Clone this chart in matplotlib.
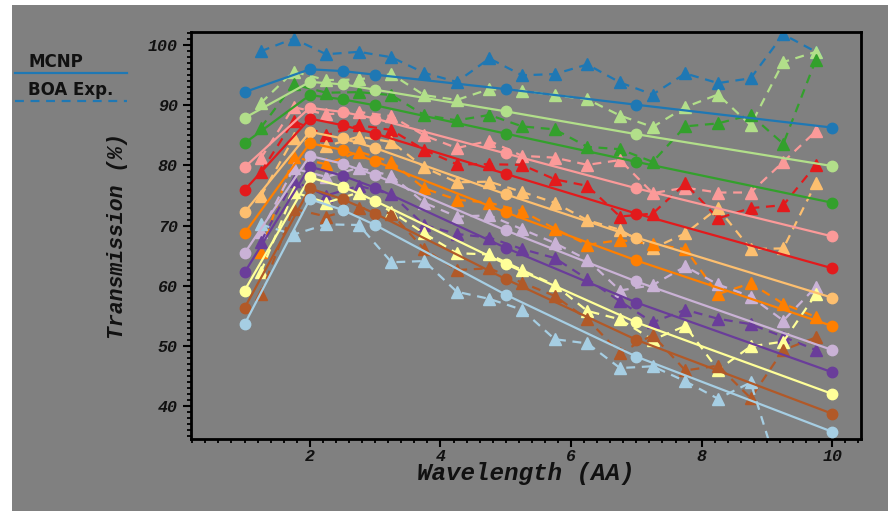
import matplotlib
matplotlib.use("Agg")
import matplotlib.pyplot as plt
from matplotlib.lines import Line2D
from matplotlib.patches import Rectangle
from matplotlib.ticker import MultipleLocator

# ---------------- data ----------------
colors = ["#1f78b4", "#b2df8a", "#33a02c", "#fb9a99", "#e31a1c", "#fdbf6f",
          "#ff7f00", "#cab2d6", "#6a3d9a", "#ffff99", "#b15928", "#a6cee3"]

mcnp_x = [1, 2, 2.5, 3, 5, 7, 10]
mcnp_blue = [92.2, 96.0, 95.7, 95.1, 92.7, 90.1, 86.3]
mcnp_lgreen = [87.9, 93.9, 93.5, 92.6, 89.0, 85.2, 79.9]
mcnp_green = [83.7, 91.7, 91.0, 90.0, 85.3, 80.6, 73.8]
mcnp_pink = [79.7, 89.6, 88.9, 87.8, 82.0, 76.2, 68.2]
mcnp_red = [75.9, 87.8, 86.7, 85.3, 78.6, 72.0, 62.9]
mcnp_lorange = [72.2, 85.6, 84.5, 82.9, 75.2, 68.0, 58.0]
mcnp_orange = [68.7, 83.7, 82.6, 80.7, 72.2, 64.2, 53.3]
mcnp_lpurple = [65.4, 81.6, 80.3, 78.4, 69.2, 60.7, 49.3]
mcnp_purple = [62.2, 79.8, 78.3, 76.3, 66.3, 57.2, 45.6]
mcnp_yellow = [59.2, 78.0, 76.5, 74.1, 63.6, 53.9, 42.0]
mcnp_brown = [56.3, 76.2, 74.4, 72.0, 61.1, 51.0, 38.7]
mcnp_lblue = [53.6, 74.4, 72.6, 70.1, 58.5, 48.2, 35.7]

boa_x = [1.25, 1.75, 2.25, 2.75, 3.25, 3.75, 4.25, 4.75, 5.25, 5.75,
         6.25, 6.75, 7.25, 7.75, 8.25, 8.75, 9.25, 9.75]
boa_blue = [99.0, 101.1, 98.5, 98.9, 98.0, 95.4, 93.9, 97.8, 95.0, 95.2,
            96.8, 93.8, 91.8, 95.3, 93.7, 94.5, 101.8, 98.9]
boa_lgreen = [90.4, 95.6, 94.2, 94.3, 95.2, 91.7, 90.9, 92.7, 92.4, 91.7,
              91.0, 88.3, 86.4, 89.7, 91.8, 86.7, 97.2, 98.9]
boa_green = [86.3, 93.5, 92.1, 92.2, 91.7, 88.4, 87.5, 88.4, 86.5, 86.0,
             83.1, 82.7, 80.6, 86.5, 87.0, 88.4, 83.6, 97.6]
boa_pink = [81.2, 89.7, 88.5, 88.9, 88.2, 85.0, 82.9, 84.1, 81.6, 81.3,
            80.1, 80.9, 75.4, 76.3, 75.5, 75.5, 80.6, 85.7]
boa_red = [78.9, 87.4, 85.0, 86.7, 85.9, 82.6, 80.2, 80.2, 80.1, 77.7,
           76.6, 71.5, 72.0, 77.0, 71.2, 72.9, 73.4, 80.1]
boa_lorange = [74.9, 84.5, 83.2, 84.8, 83.9, 79.7, 77.2, 77.3, 75.6, 73.8,
               70.9, 69.3, 66.2, 68.7, 72.9, 66.1, 66.2, 77.1]
boa_orange = [65.6, 81.4, 80.2, 82.3, 80.6, 76.2, 74.3, 73.8, 72.4, 69.5,
              66.8, 67.6, 66.9, 66.1, 58.6, 60.4, 57.0, 54.8]
boa_lpurple = [68.9, 79.5, 78.1, 79.6, 78.3, 73.8, 71.5, 71.7, 69.4, 67.1,
               64.3, 59.2, 60.1, 63.2, 60.2, 58.2, 54.2, 59.8]
boa_purple = [67.3, 77.4, 75.0, 76.6, 75.2, 70.1, 68.6, 68.0, 66.1, 64.6,
              61.1, 57.4, 53.9, 56.0, 54.5, 53.6, 51.5, 49.3]
boa_yellow = [62.3, 75.6, 73.8, 75.5, 72.3, 68.7, 65.4, 65.2, 62.6, 60.1,
              55.8, 54.4, 51.0, 53.3, 46.0, 49.9, 50.7, 58.6]
boa_brown = [58.7, 72.8, 71.5, 73.0, 72.0, 66.1, 62.6, 62.9, 60.5, 58.3,
             54.4, 48.8, 51.8, 45.9, 46.7, 41.3, 49.3, 51.4]
boa_lblue = [70.2, 68.5, 70.2, 70.1, 63.9, 64.1, 59.0, 57.8, 56.0, 51.1,
             50.4, 46.3, 46.6, 44.1, 41.2, 43.9, 26.5, 25.0]

mcnp_series = [mcnp_blue, mcnp_lgreen, mcnp_green, mcnp_pink, mcnp_red, mcnp_lorange,
               mcnp_orange, mcnp_lpurple, mcnp_purple, mcnp_yellow, mcnp_brown, mcnp_lblue]
boa_series = [boa_blue, boa_lgreen, boa_green, boa_pink, boa_red, boa_lorange,
              boa_orange, boa_lpurple, boa_purple, boa_yellow, boa_brown, boa_lblue]

x_label = "Wavelength (AA)"
y_label = "Transmission (%)"
legend_labels = ["MCNP", "BOA Exp."]

# ---------------- figure ----------------
W, H = 888, 511
fig = plt.figure(figsize=(W / 100, H / 100), dpi=100, facecolor="white")
bg = Rectangle((12 / W, 0), 1 - 12 / W, 1 - 5 / H, transform=fig.transFigure,
               facecolor="#808080", edgecolor="none", zorder=-10)
fig.add_artist(bg)

ax = fig.add_axes([191 / W, 1 - 439 / H, (861 - 191) / W, (439 - 32) / H])
ax.set_zorder(1)
ax.set_facecolor("#808080")

for c, ys in zip(colors, mcnp_series):
    ax.plot(mcnp_x, ys, color=c, lw=1.6, marker="o", ms=7.5, mec=c, mfc=c, zorder=3)
for c, ys in zip(colors, boa_series):
    ax.plot(boa_x, ys, color=c, lw=1.6, ls=(0, (4, 3)), marker="^", ms=8.5,
            mec=c, mfc=c, zorder=2)

ax.set_xlim(0.18, 10.44)
ax.set_ylim(34.5, 102.2)
ax.xaxis.set_major_locator(MultipleLocator(2))
ax.xaxis.set_minor_locator(MultipleLocator(0.2))
ax.yaxis.set_major_locator(MultipleLocator(10))
ax.yaxis.set_minor_locator(MultipleLocator(1))
ax.tick_params(which="major", direction="out", length=6, width=1.5, colors="black",
               top=False, right=False)
ax.tick_params(which="minor", direction="out", length=3, width=1.3, colors="black",
               top=False, right=False)
ax.tick_params(axis="x", which="major", pad=1)
for s in ax.spines.values():
    s.set_linewidth(2)
    s.set_color("black")

for lab in ax.get_xticklabels() + ax.get_yticklabels():
    lab.set_fontfamily("Liberation Mono")
    lab.set_fontweight("bold")
    lab.set_fontstyle("italic")
    lab.set_fontsize(12)
    lab.set_color("#111111")

ax.set_xlabel(x_label, family="Liberation Mono", weight="bold", style="italic",
              size=17.5, color="#111111", labelpad=-1)
ax.set_ylabel(y_label, family="Liberation Mono", weight="bold", style="italic",
              size=15.5, color="#111111", labelpad=14)

# legend (outside, top-left)
fig.text(28 / W, 1 - 62 / H, legend_labels[0], family="DejaVu Sans", weight="bold",
         size=12, va="center", ha="left", color="#111111")
fig.add_artist(Line2D([15 / W, 127 / W], [1 - 73 / H, 1 - 73 / H],
                      transform=fig.transFigure, color=colors[0], lw=1.6))
fig.text(28 / W, 1 - 90 / H, legend_labels[1], family="DejaVu Sans", weight="bold",
         size=12, va="center", ha="left", color="#111111")
fig.add_artist(Line2D([15 / W, 127 / W], [1 - 101 / H, 1 - 101 / H],
                      transform=fig.transFigure, color=colors[0], lw=1.6,
                      ls=(0, (4, 3))))

fig.savefig("out.png", dpi=100, facecolor=fig.get_facecolor())
